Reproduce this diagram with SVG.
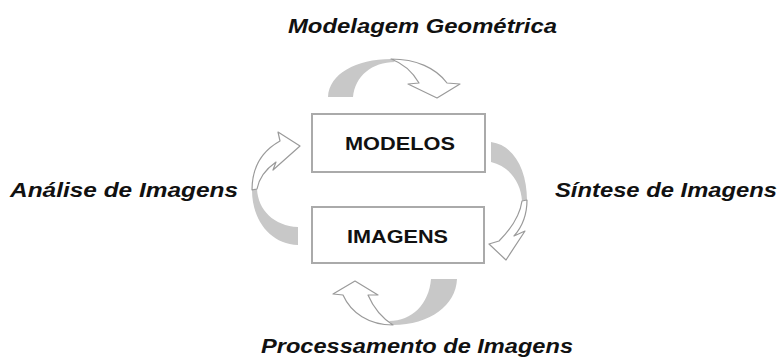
<svg xmlns="http://www.w3.org/2000/svg" width="779" height="360" viewBox="0 0 779 360">
  <style>
    .box { fill: #ffffff; stroke: #aaaaaa; stroke-width: 2; }
    .boxlabel { font-family: "Liberation Sans", Arial, sans-serif; font-weight: bold; font-size: 18.5px; fill: #111111; }
    .label { font-family: "Liberation Sans", Arial, sans-serif; font-weight: bold; font-style: italic; font-size: 21px; fill: #111111; }
    .back { fill: #c8c8c8; stroke: none; }
    .face { fill: #ffffff; stroke: #9a9a9a; stroke-width: 1.2; stroke-linejoin: round; }
  </style>
  <rect width="779" height="360" fill="#ffffff"/>

  <g id="connectors">
    <g id="arrow-modelagem">
      <path class="back" d="M 328,97 C 329,74 356,59 391,59 L 395,62 C 372,62 355,76 353,97 Z"/>
      <path class="face" d="M 391,59 C 416,59 436,68 447,83 L 460,84 L 437,98 L 408,84 L 419,83 C 412,71 402,63 391,59 Z"/>
    </g>
    <g id="arrow-sintese">
      <path class="back" d="M 491,142 C 514,145 527,170 527,200 L 522,201 C 521,182 509,166 491,162 Z"/>
      <path class="face" d="M 527,200 C 527,214 522,227 514,236 L 525,231 L 506,260 L 489,244 L 499,241 C 511,229 520,215 522,201 Z"/>
    </g>
    <g id="arrow-processamento">
      <path class="back" d="M 457,279 C 456,305 430,325 393,325 L 389,321 C 412,321 429,304 431,279 Z"/>
      <path class="face" d="M 393,325 C 369,325 351,313 343,295 L 333,294 L 355,281 L 378,295 L 368,295 C 374,309 382,318 393,325 Z"/>
    </g>
    <g id="arrow-analise">
      <path class="back" d="M 298,245 C 270,244 252,220 252,190 L 257,189 C 258,210 274,226 298,227 Z"/>
      <path class="face" d="M 252,190 C 252,168 262,151 280,141 L 278,132 L 300,146 L 273,170 L 276,162 C 266,169 259,178 257,189 Z"/>
    </g>
  </g>

  <g id="labels">
    <text class="label" x="288" y="33" textLength="269" lengthAdjust="spacingAndGlyphs">Modelagem Geométrica</text>
    <text class="label" x="555" y="197" textLength="222" lengthAdjust="spacingAndGlyphs">Síntese de Imagens</text>
    <text class="label" x="261" y="353" textLength="312" lengthAdjust="spacingAndGlyphs">Processamento de Imagens</text>
    <text class="label" x="10" y="197" textLength="228" lengthAdjust="spacingAndGlyphs">Análise de Imagens</text>
  </g>

  <g id="node-modelos">
    <rect class="box" x="312" y="114" width="173" height="58"/>
    <text class="boxlabel" x="345" y="150" textLength="110" lengthAdjust="spacingAndGlyphs">MODELOS</text>
  </g>
  <g id="node-imagens">
    <rect class="box" x="312" y="207" width="172" height="56"/>
    <text class="boxlabel" x="347" y="243" textLength="101" lengthAdjust="spacingAndGlyphs">IMAGENS</text>
  </g>
</svg>
